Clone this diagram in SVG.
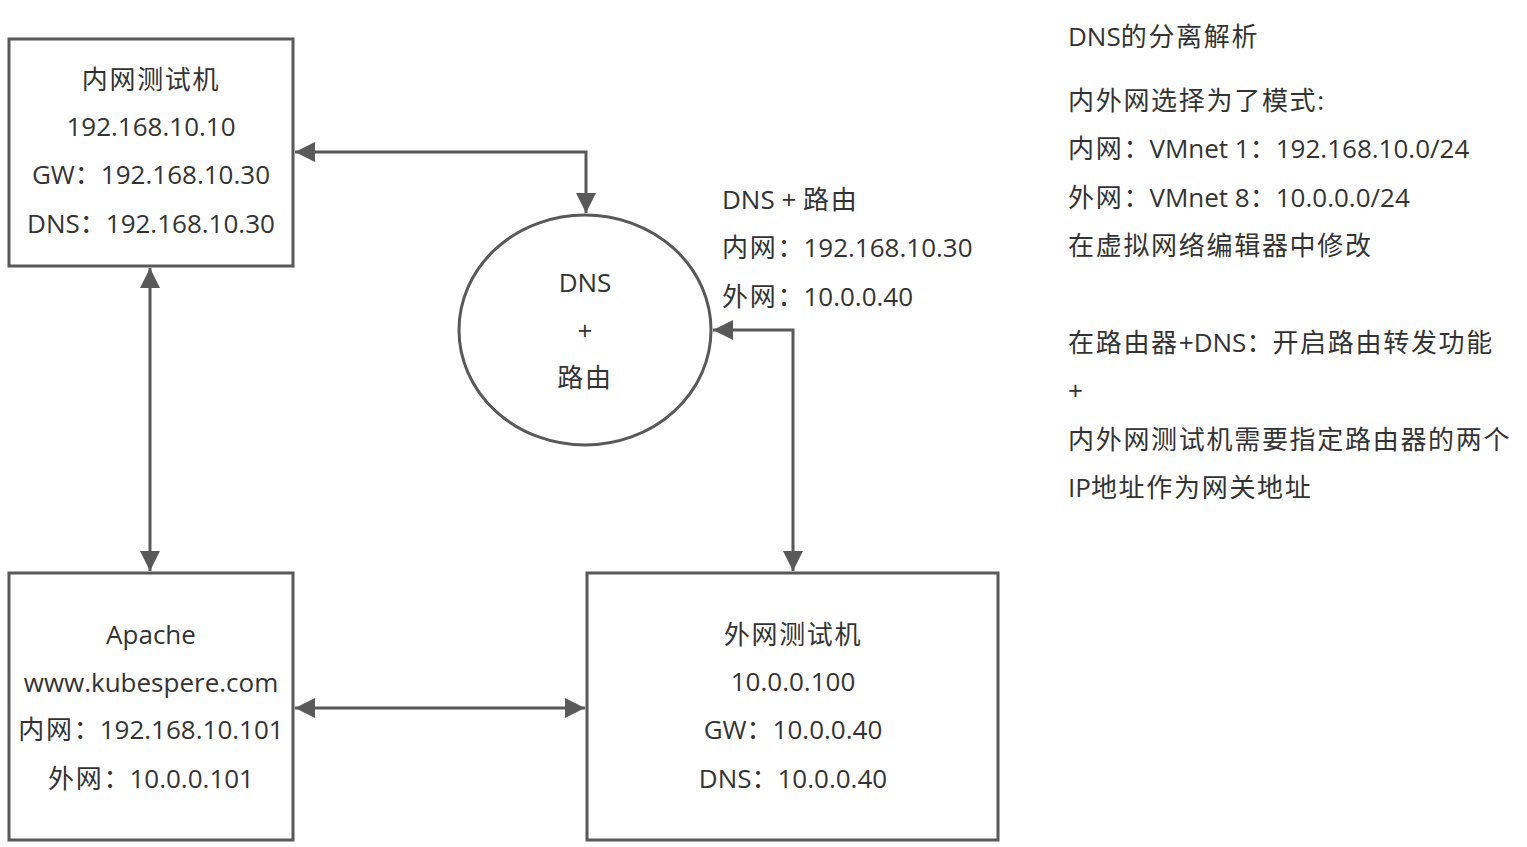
<svg xmlns="http://www.w3.org/2000/svg" width="1527" height="847" viewBox="0 0 1527 847">
<defs>
<style>
.box{fill:#fff;stroke:#595959;stroke-width:3}
.ln{fill:none;stroke:#595959;stroke-width:3}
text{font-family:"Open Sans","Noto Sans CJK SC",sans-serif;font-size:26px;fill:#333}
.c{text-anchor:middle}
.k{letter-spacing:1.7px}
</style>
<marker id="ah" viewBox="0 0 20 20" refX="20" refY="10" markerWidth="20" markerHeight="20" markerUnits="userSpaceOnUse" orient="auto-start-reverse">
<path d="M0,0 L20,10 L0,20 Z" fill="#595959"/>
</marker>
</defs>
<rect width="1527" height="847" fill="#fff"/>
<g id="connectors">
<path class="ln" d="M295,152 H586 V213" marker-start="url(#ah)" marker-end="url(#ah)"/>
<path class="ln" d="M150,268 V571" marker-start="url(#ah)" marker-end="url(#ah)"/>
<path class="ln" d="M295,708 H585" marker-start="url(#ah)" marker-end="url(#ah)"/>
<path class="ln" d="M713,330 H793 V571" marker-start="url(#ah)" marker-end="url(#ah)"/>
</g>
<g id="inner">
<rect class="box" x="9" y="39" width="284" height="227"/>
<text class="c k" x="151" y="89">内网测试机</text>
<text class="c" x="151" y="136">192.168.10.10</text>
<text class="c" x="151" y="184">GW：192.168.10.30</text>
<text class="c" x="151" y="233">DNS：192.168.10.30</text>
</g>
<g id="apache">
<rect class="box" x="9" y="573" width="284" height="267"/>
<text class="c" x="151" y="644">Apache</text>
<text class="c" x="151" y="692">www.kubespere.com</text>
<text class="c" x="151" y="739"><tspan class="k">内网</tspan>：192.168.10.101</text>
<text class="c" x="151" y="788"><tspan class="k">外网</tspan>：10.0.0.101</text>
</g>
<g id="outer">
<rect class="box" x="587" y="573" width="411" height="267"/>
<text class="c k" x="793" y="644">外网测试机</text>
<text class="c" x="793" y="691">10.0.0.100</text>
<text class="c" x="793" y="739">GW：10.0.0.40</text>
<text class="c" x="793" y="788">DNS：10.0.0.40</text>
</g>
<g id="router">
<ellipse class="box" cx="585" cy="330" rx="126" ry="115"/>
<text class="c" x="585" y="292">DNS</text>
<text class="c" x="585" y="340">+</text>
<text class="c k" x="585" y="387">路由</text>
</g>
<g id="router-label">
<text x="722" y="209">DNS + <tspan class="k">路由</tspan></text>
<text x="722" y="257"><tspan class="k">内网</tspan>：192.168.10.30</text>
<text x="722" y="306"><tspan class="k">外网</tspan>：10.0.0.40</text>
</g>
<g id="notes">
<text x="1068" y="46">DNS<tspan class="k">的分离解析</tspan></text>
<text x="1068" y="110"><tspan class="k">内外网选择为了模式</tspan>:</text>
<text x="1068" y="158"><tspan class="k">内网</tspan>：VMnet 1：192.168.10.0/24</text>
<text x="1068" y="207"><tspan class="k">外网</tspan>：VMnet 8：10.0.0.0/24</text>
<text class="k" x="1068" y="255">在虚拟网络编辑器中修改</text>
<text x="1068" y="352"><tspan class="k">在路由器</tspan>+DNS：<tspan class="k">开启路由转发功能</tspan></text>
<text x="1068" y="400">+</text>
<text class="k" x="1068" y="449">内外网测试机需要指定路由器的两个</text>
<text x="1068" y="497">IP<tspan class="k">地址作为网关地址</tspan></text>
</g>
</svg>
